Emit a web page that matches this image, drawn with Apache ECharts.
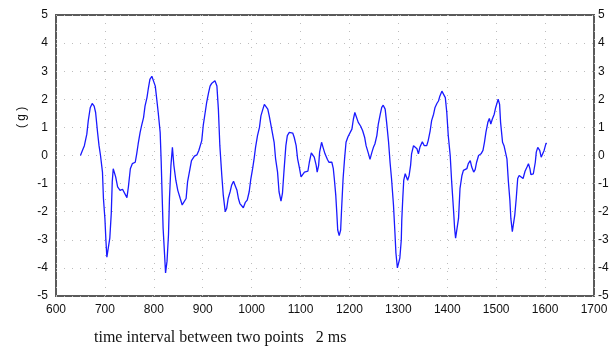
<!DOCTYPE html>
<html><head><meta charset="utf-8">
<script src="https://cdn.jsdelivr.net/npm/echarts@6/dist/echarts.min.js"></script>
<style>html,body{margin:0;padding:0;background:#fff}#c{width:613px;height:349px}</style>
</head><body><div id="c"></div>
<script>
var timeVals = [650,654,658,663,666,670,674,678,681,685,688,691,695,697,700,702,704,707,710,713,715,717,719,722,726,731,736,740,745,748,752,756,762,765,768,772,775,779,782,786,789,792,796,799,803,806,809,813,815,817,819,822,824,827,830,832,835,838,841,845,849,854,858,862,866,869,874,877,883,888,892,898,901,905,908,912,915,918,922,925,929,932,935,939,942,946,949,952,956,959,963,966,970,973,976,980,983,987,991,995,998,1002,1005,1008,1012,1016,1019,1023,1026,1030,1033,1036,1041,1046,1049,1053,1056,1060,1063,1066,1070,1073,1077,1081,1084,1087,1091,1094,1098,1101,1105,1108,1111,1115,1118,1122,1125,1128,1132,1134,1137,1139,1143,1146,1150,1155,1158,1164,1167,1169,1172,1174,1176,1179,1182,1184,1187,1190,1193,1197,1201,1205,1208,1211,1215,1218,1223,1227,1231,1234,1239,1242,1246,1249,1252,1256,1259,1263,1266,1269,1273,1276,1280,1283,1286,1290,1293,1295,1298,1300,1303,1306,1307,1309,1311,1314,1317,1319,1322,1325,1327,1331,1334,1338,1341,1344,1349,1353,1358,1361,1365,1368,1372,1375,1379,1382,1385,1389,1392,1396,1399,1402,1406,1409,1413,1415,1417,1420,1423,1426,1430,1433,1436,1440,1443,1447,1450,1454,1457,1460,1464,1469,1473,1476,1479,1483,1486,1489,1492,1496,1499,1502,1504,1507,1509,1513,1516,1520,1522,1525,1528,1530,1533,1535,1538,1541,1544,1547,1551,1555,1559,1563,1566,1569,1571,1576,1580,1582,1585,1589,1592,1595,1598,1601,1603];
var accelVals = [0,0.18,0.35,0.76,1.24,1.7,1.85,1.76,1.53,0.82,0.35,0.0,-0.59,-1.53,-2.24,-3.0,-3.62,-3.59,-2.94,-2.06,-0.94,-0.47,-0.45,-0.76,-1.12,-1.24,-1.2,-1.27,-1.5,-1.12,-0.47,-0.29,-0.24,0.06,0.41,0.82,1.06,1.35,1.76,2.06,2.41,2.71,2.82,2.76,2.47,2.0,1.53,0.82,-0.18,-1.41,-2.59,-3.53,-4.18,-3.76,-2.82,-1.53,-0.35,0.29,-0.35,-0.88,-1.24,-1.53,-1.76,-1.76,-1.53,-0.94,-0.47,-0.18,-0.02,0.02,0.18,0.53,1.06,1.53,1.88,2.24,2.47,2.56,2.62,2.66,2.47,1.65,0.35,-0.71,-1.41,-2.0,-1.88,-1.53,-1.29,-1.06,-0.92,-1.06,-1.24,-1.53,-1.71,-1.76,-1.86,-1.67,-1.59,-1.29,-0.88,-0.47,-0.12,0.29,0.71,1.0,1.41,1.65,1.82,1.88,1.65,1.41,0.94,0.47,-0.12,-0.59,-1.29,-1.62,-1.35,-0.59,0.35,0.71,0.82,0.76,0.8,0.65,0.35,-0.12,-0.47,-0.76,-0.76,-0.59,-0.56,-0.56,-0.24,0.09,0.14,-0.06,-0.35,-0.59,-0.35,0.12,0.47,0.29,0.06,-0.14,-0.24,-0.24,-0.47,-0.82,-1.41,-2.0,-2.65,-2.85,-2.65,-1.88,-0.82,-0.12,0.47,0.67,0.68,0.94,1.29,1.53,1.47,1.18,1.04,0.88,0.65,0.35,0.06,-0.14,0.12,0.29,0.41,0.71,1.12,1.47,1.71,1.79,1.65,1.18,0.47,-0.24,-0.82,-1.76,-2.75,-3.47,-4.0,-4.06,-3.65,-3.0,-2.29,-1.53,-0.88,-0.65,-0.71,-0.88,-0.71,-0.35,0.06,0.35,0.41,0.24,0.06,0.29,0.49,0.35,0.35,0.53,0.88,1.24,1.47,1.71,1.86,1.94,2.12,2.29,2.32,2.06,1.53,0.71,0.0,-0.94,-2.0,-2.59,-2.94,-2.88,-2.24,-1.18,-0.71,-0.53,-0.59,-0.47,-0.29,-0.18,-0.41,-0.59,-0.5,-0.24,0.0,0.06,0.18,0.47,0.82,1.18,1.32,1.12,1.29,1.47,1.71,1.88,2.0,1.82,1.18,0.47,0.35,0.29,-0.12,-0.94,-1.59,-2.24,-2.71,-2.65,-2.12,-1.53,-0.82,-0.71,-0.73,-0.82,-0.56,-0.41,-0.29,-0.47,-0.68,-0.65,-0.24,0.12,0.29,0.18,-0.06,-0.12,0.18,0.38,0.45];
var xTicks = {min: 600, max: 1700, step: 100};
var yTicks = {min: -5, max: 5, step: 1};
var xTitle = 'time interval between two points   2 ms';
var yTitle = '( g )';

var seriesData = timeVals.map(function (t, i) { return [t, accelVals[i]]; });
var chart = echarts.init(document.getElementById('c'), null, {renderer: 'canvas'});
var labelStyle = {color: '#111', fontFamily: 'Liberation Sans, Arial, sans-serif', fontSize: 12,
  formatter: function (v) { return String(v); }};
var dotted = {color: '#bdbdbd', width: 1, type: [1, 7]};
chart.setOption({
  animation: false,
  backgroundColor: '#fff',
  grid: {left: 56, right: 19, top: 15, bottom: 53, show: true, borderColor: '#5a5a5a', borderWidth: 2, backgroundColor: 'transparent'},
  xAxis: {type: 'value', min: xTicks.min, max: xTicks.max, interval: xTicks.step,
    axisLine: {show: false}, axisTick: {show: false},
    axisLabel: Object.assign({margin: 8}, labelStyle),
    splitLine: {show: true, lineStyle: dotted}},
  yAxis: [
    {type: 'value', min: yTicks.min, max: yTicks.max, interval: yTicks.step, position: 'left',
      axisLine: {show: false}, axisTick: {show: false},
      axisLabel: Object.assign({margin: 8}, labelStyle),
      splitLine: {show: true, lineStyle: dotted}},
    {type: 'value', min: yTicks.min, max: yTicks.max, interval: yTicks.step, position: 'right',
      axisLine: {show: false}, axisTick: {show: false},
      axisLabel: Object.assign({margin: 4}, labelStyle),
      splitLine: {show: false}}
  ],
  graphic: [
    {type: 'text', left: 94, top: 330, style: {text: xTitle, fill: '#111', font: '16px "Liberation Serif", "Times New Roman", serif'}},
    {type: 'text', x: 16, y: 128, rotation: Math.PI / 2, style: {text: yTitle, fill: '#111', font: '12px "Liberation Sans", Arial, sans-serif'}}
  ],
  series: [{type: 'line', data: seriesData, showSymbol: false, symbol: 'none',
    lineStyle: {color: '#1a1aff', width: 1.3}, z: 5}]
});
</script></body></html>
